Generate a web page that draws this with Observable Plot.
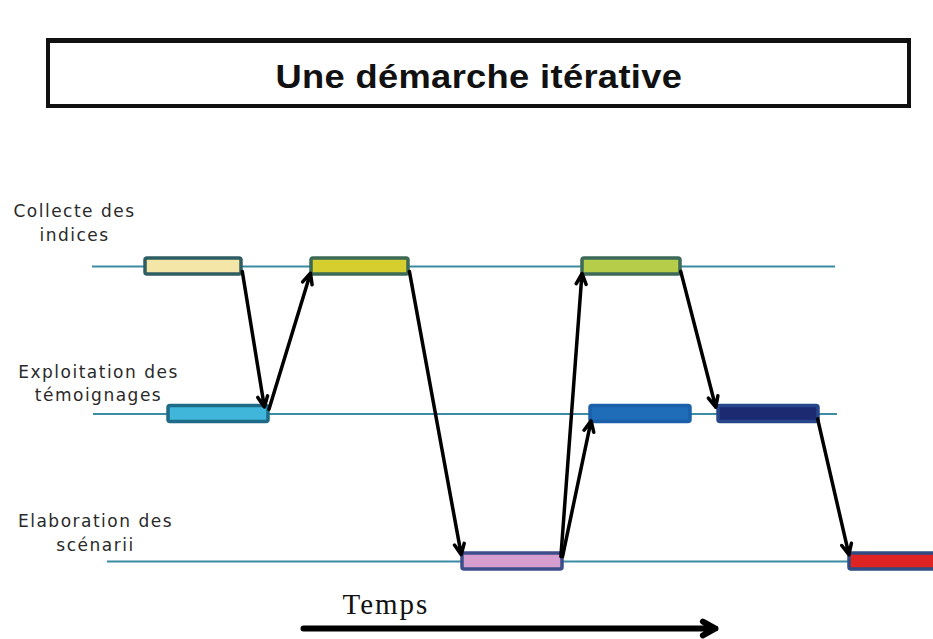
<!DOCTYPE html>
<html>
<head>
<meta charset="utf-8">
<script src="https://cdn.jsdelivr.net/npm/d3@7"></script>
<script src="https://cdn.jsdelivr.net/npm/@observablehq/plot@0.6"></script>
<style>
  body { margin: 0; background: #fff; }
  #wrap { width: 933px; height: 639px; position: relative; overflow: hidden; background: #fff; }
  #head { position: relative; height: 130px; }
  #title {
    position: absolute; left: 46px; top: 38px; width: 865px; height: 70px;
    box-sizing: border-box; border: 4px solid #111; border-top-width: 5px;
    padding-top: 17px; line-height: 33px; text-align: center;
    font-family: "Liberation Sans", Arial, sans-serif; font-weight: bold; font-size: 33px; color: #111;
  }
  #title span { display: inline-block; transform: scaleX(1.1); letter-spacing: 0.3px; }
  #chart svg { display: block; }
  #chart g[font-family^="DejaVu"] text { letter-spacing: 1.5px; }
  #chart g[font-family^="Liberation Serif"] text { letter-spacing: 2px; }
</style>
</head>
<body>
<div id="wrap">
  <div id="head"><div id="title"><span>Une démarche itérative</span></div></div>
  <div id="chart"></div>
</div>
<script>
// ---- data ----
const rowNames = ["Collecte des\nindices", "Exploitation des\ntémoignages", "Elaboration des\nscénarii"];
const laneStart = [92, 93, 107];
const laneEnd = [835, 837, 945];

// activity bars (row index, start time, end time)
const barRows   = [0,   0,   0,   1,   1,   1,   2,   2];
const barStarts = [145, 311, 582, 168, 590, 718, 462, 849];
const barEnds   = [241, 408, 680, 268, 690, 818, 562, 960];

// transitions between activities (from time,row -> to time,row)
const fromTimes = [241, 267, 408, 560, 561, 679, 816];
const fromRows  = [0,   1,   0,   2,   2,   0,   1];
const toTimes   = [265, 312, 462, 582, 592, 717, 850];
const toRows    = [1,   0,   2,   0,   1,   1,   2];

const timeLabel = "Temps";
const timeArrowStart = 303;
const timeArrowEnd = 715;

// ---- styles ----
const barFills   = ["#f3e6a6", "#d6cd2e", "#b6cd4a", "#3fb6da", "#1f6cb8", "#1c2a72", "#d69ece", "#e02424"];
const barStrokes = ["#2e5e62", "#3d6a55", "#3d6a58", "#1f6a86", "#1b60aa", "#28478a", "#3c4d8a", "#304c82"];

// ---- tables ----
const lanes = rowNames.map((name, i) => ({row: i, name, start: laneStart[i], end: laneEnd[i]}));
const bars = barRows.map((r, i) => ({row: r, start: barStarts[i], end: barEnds[i], i}));
const transitions = fromTimes.map((t, i) => ({x1: t, y1: fromRows[i], x2: toTimes[i], y2: toRows[i]}));
const timeAxis = [{start: timeArrowStart, end: timeArrowEnd, label: timeLabel}];

const labelDx = [74, 98, 95];
const labelDy = [-26, -13, -11];

const plot = Plot.plot({
  width: 933,
  height: 509,
  margin: 0,
  x: {domain: [0, 933], range: [0, 933], axis: null},
  y: {domain: [0, 2], range: [136, 431], axis: null},
  color: {type: "identity"},
  marks: [
    Plot.ruleY(lanes, {y: "row", x1: "start", x2: "end", stroke: "#3b8ca3", strokeWidth: 2}),
    Plot.rect(bars, {
      x1: "start", x2: "end", y1: "row", y2: "row",
      insetTop: -8, insetBottom: -8, rx: 2,
      fill: d => barFills[d.i], stroke: d => barStrokes[d.i], strokeWidth: 3.5
    }),
    Plot.arrow(transitions, {
      x1: "x1", y1: "y1", x2: "x2", y2: "y2",
      stroke: "#000", strokeWidth: 3.5, headLength: 5, headAngle: 50,
      insetStart: 5, insetEnd: 7
    }),
    ...lanes.map((l, i) => Plot.text([l], {
      y: "row", text: "name", frameAnchor: "left", dx: labelDx[i], dy: labelDy[i],
      textAnchor: "middle", lineAnchor: "bottom", lineHeight: 1.36,
      fontFamily: "DejaVu Sans, Verdana, sans-serif", fontSize: 17, fill: "#2a2a2a"
    })),
    Plot.arrow(timeAxis, {
      x1: "start", x2: "end", y1: 2, y2: 2, dy: 67,
      stroke: "#000", strokeWidth: 6, headLength: 3.6, headAngle: 58
    }),
    Plot.text(timeAxis, {
      x: "start", y: 2, text: "label", dx: 39, dy: 52,
      textAnchor: "start", lineAnchor: "bottom",
      fontFamily: "Liberation Serif, Times New Roman, serif", fontSize: 29, fill: "#111"
    })
  ]
});
document.getElementById("chart").appendChild(plot);
</script>
</body>
</html>
